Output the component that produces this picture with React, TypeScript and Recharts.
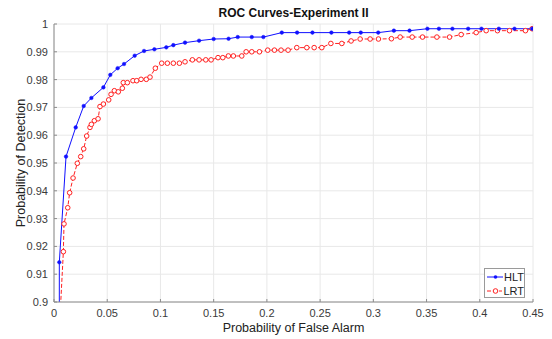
import React from "react";
import {
	CartesianGrid,
	Line,
	LineChart,
	XAxis,
	YAxis,
} from "recharts";

// false alarm / detection pairs
const hltFa = [
	0.005, 0.005, 0.0113, 0.0204, 0.0279, 0.0351, 0.0464, 0.0529, 0.0598, 0.0658,
	0.0758, 0.0846, 0.0943, 0.1055, 0.1121, 0.1231, 0.1363, 0.15, 0.164, 0.1726,
	0.1858, 0.1967, 0.214, 0.2284, 0.2428, 0.2606, 0.2773, 0.2882, 0.3046, 0.3193,
	0.334, 0.3508, 0.3616, 0.3743, 0.3891, 0.4016, 0.4179, 0.4326, 0.4492,
];
const hltPd = [
	0.89, 0.9143, 0.9523, 0.9628, 0.9705, 0.9734, 0.9772, 0.9817, 0.9841, 0.9856,
	0.9886, 0.9903, 0.9909, 0.9916, 0.9924, 0.9933, 0.994, 0.9946, 0.9947, 0.9953,
	0.9953, 0.9953, 0.9969, 0.9969, 0.9969, 0.9969, 0.9969, 0.9969, 0.9969, 0.9976,
	0.9976, 0.9983, 0.9983, 0.9983, 0.9983, 0.9983, 0.9983, 0.9983, 0.9983,
];

const lrtFa = [
	0.005, 0.0088, 0.0094, 0.0129, 0.0147, 0.0179, 0.0219, 0.0251, 0.0279, 0.0307,
	0.0338, 0.0351, 0.0379, 0.0414, 0.0432, 0.0464, 0.0514, 0.0536, 0.0567, 0.0604,
	0.0642, 0.0651, 0.0689, 0.0742, 0.0777, 0.0818, 0.0867, 0.0902, 0.0952, 0.1012,
	0.1065, 0.1121, 0.1178, 0.1231, 0.13, 0.1363, 0.1426, 0.1476, 0.1541, 0.1586,
	0.1638, 0.1685, 0.1764, 0.1805, 0.1858, 0.193, 0.2008, 0.2071, 0.2133, 0.2199,
	0.2281, 0.2375, 0.2444, 0.2516, 0.2601, 0.2704, 0.2791, 0.2876, 0.297, 0.3048,
	0.317, 0.3252, 0.3365, 0.3462, 0.3597, 0.3716, 0.3825, 0.3966, 0.406, 0.4166,
	0.4279, 0.4429, 0.4492,
];
const lrtPd = [
	0.89, 0.9181, 0.9281, 0.9339, 0.9393, 0.9446, 0.9499, 0.9523, 0.9551, 0.9597,
	0.9628, 0.9639, 0.9652, 0.9659, 0.9703, 0.9712, 0.9727, 0.9747, 0.976, 0.9756,
	0.9769, 0.9789, 0.9789, 0.9796, 0.9796, 0.9801, 0.9801, 0.9809, 0.9841, 0.9859,
	0.9859, 0.9859, 0.9859, 0.9864, 0.9871, 0.9871, 0.9871, 0.9871, 0.9879, 0.9879,
	0.9885, 0.9885, 0.9885, 0.99, 0.99, 0.99, 0.9906, 0.9906, 0.9906, 0.9906,
	0.9915, 0.9915, 0.9915, 0.9915, 0.993, 0.993, 0.9939, 0.9946, 0.9946, 0.9946,
	0.9947, 0.9953, 0.9953, 0.9953, 0.9953, 0.9953, 0.9962, 0.9969, 0.9976, 0.9976,
	0.9976, 0.9976, 0.9983,
];

const xTicks = [0, 0.05, 0.1, 0.15, 0.2, 0.25, 0.3, 0.35, 0.4, 0.45];
const yTicks = [0.9, 0.91, 0.92, 0.93, 0.94, 0.95, 0.96, 0.97, 0.98, 0.99, 1];

const hlt = hltFa.map((x, i) => ({ x, y: hltPd[i] }));
const lrt = lrtFa.map((x, i) => ({ x, y: lrtPd[i] }));

const FONT = "Arial, 'Liberation Sans', sans-serif";
const AXIS = "#8c8c8c";
const tickStyle = { fontSize: 11, fill: "#3a3a3a", fontFamily: FONT };
const fmt = (v: number) => String(v);

const App: React.FC = () => {
	return (
		<div
			style={{
				position: "absolute",
				left: 0,
				top: 0,
				width: 552,
				height: 339,
				background: "#fff",
				fontFamily: FONT,
			}}
		>
			<LineChart
				width={552}
				height={339}
				margin={{ top: 24, right: 19, bottom: 0, left: 0 }}
			>
				<CartesianGrid stroke="#e8e8e8" />
				<XAxis
					dataKey="x"
					type="number"
					domain={[0, 0.45]}
					ticks={xTicks}
					tickFormatter={fmt}
					height={37}
					stroke={AXIS}
					tickSize={-3}
					tickMargin={10}
					tick={tickStyle}
					allowDataOverflow
				/>
				<XAxis
					xAxisId="top"
					orientation="top"
					type="number"
					domain={[0, 0.45]}
					ticks={xTicks}
					tickFormatter={() => ""}
					height={0}
					stroke={AXIS}
					tickSize={-3}
				/>
				<YAxis
					type="number"
					domain={[0.9, 1]}
					ticks={yTicks}
					tickFormatter={fmt}
					width={54}
					stroke={AXIS}
					tickSize={-3}
					tickMargin={9}
					tick={tickStyle}
					allowDataOverflow
				/>
				<YAxis
					yAxisId="right"
					orientation="right"
					type="number"
					domain={[0.9, 1]}
					ticks={yTicks}
					tickFormatter={() => ""}
					width={0}
					stroke={AXIS}
					tickSize={-3}
				/>
				<Line
					data={lrt}
					dataKey="y"
					stroke="#ff2020"
					strokeWidth={1}
					strokeDasharray="4 2"
					dot={{ r: 2.3, fill: "#fff", stroke: "#ff2020", strokeWidth: 1, strokeDasharray: "" }}
					isAnimationActive={false}
				/>
				<Line
					data={hlt}
					dataKey="y"
					stroke="#1010ff"
					strokeWidth={1}
					dot={{ r: 1.8, fill: "#1010ff", stroke: "#1010ff", strokeWidth: 0.5 }}
					isAnimationActive={false}
				/>
			</LineChart>

			<div
				style={{
					position: "absolute",
					left: 54,
					width: 479,
					top: 6,
					textAlign: "center",
					fontSize: 12,
					fontWeight: "bold",
					color: "#111",
				}}
			>
				ROC Curves-Experiment II
			</div>
			<div
				style={{
					position: "absolute",
					left: 54,
					width: 479,
					top: 321,
					textAlign: "center",
					fontSize: 12.5,
					color: "#222",
				}}
			>
				Probability of False Alarm
			</div>
			<div
				style={{
					position: "absolute",
					left: 21,
					top: 163,
					transform: "translate(-50%, -50%) rotate(-90deg)",
					whiteSpace: "nowrap",
					fontSize: 12.5,
					color: "#222",
				}}
			>
				Probability of Detection
			</div>

			<div
				style={{
					position: "absolute",
					left: 484,
					top: 268,
					width: 41,
					height: 30,
					boxSizing: "border-box",
					border: "1px solid #9a9a9a",
					background: "#fff",
					fontSize: 11,
					color: "#222",
				}}
			>
				<div style={{ display: "flex", alignItems: "center", height: 14, marginTop: 1 }}>
					<svg width={19} height={10} style={{ marginLeft: 1 }}>
						<line x1={1} y1={5} x2={18} y2={5} stroke="#1010ff" strokeWidth={1} />
						<circle cx={9.5} cy={5} r={1.8} fill="#1010ff" />
					</svg>
					<span style={{ marginLeft: 1 }}>HLT</span>
				</div>
				<div style={{ display: "flex", alignItems: "center", height: 14 }}>
					<svg width={19} height={10} style={{ marginLeft: 1 }}>
						<line
							x1={1}
							y1={5}
							x2={18}
							y2={5}
							stroke="#ff2020"
							strokeWidth={1}
							strokeDasharray="4 2"
						/>
						<circle cx={9.5} cy={5} r={2.3} fill="#fff" stroke="#ff2020" />
					</svg>
					<span style={{ marginLeft: 1 }}>LRT</span>
				</div>
			</div>
		</div>
	);
};

export default App;
